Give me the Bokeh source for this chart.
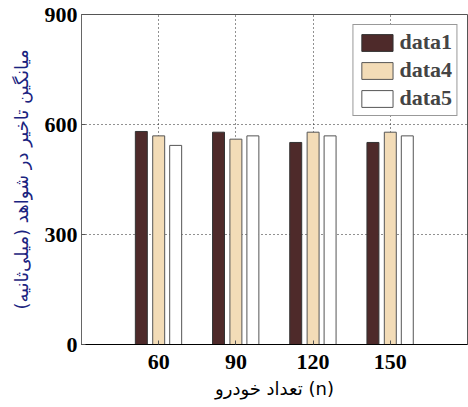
from bokeh.plotting import figure
from bokeh.models import ColumnDataSource, Range1d, FixedTicker, Legend, LegendItem
from bokeh.transform import dodge
from bokeh.embed import file_html
from bokeh.resources import INLINE

categories = ["60", "90", "120", "150"]
data1 = [581, 579, 551, 551]
data4 = [569, 560, 579, 579]
data5 = [543, 569, 569, 569]
y_ticks = [0, 300, 600, 900]

xs = list(range(1, len(categories) + 1))
src = ColumnDataSource(dict(x=xs, d1=data1, d4=data4, d5=data5))

p = figure(width=468, height=407, output_backend="svg", toolbar_location=None,
           x_range=Range1d(0, len(categories) + 1), y_range=Range1d(0, 900),
           min_border_left=81, min_border_right=1, min_border_top=14, min_border_bottom=63)
p.background_fill_color = "white"
p.border_fill_color = "white"
p.outline_line_color = "#555555"
p.outline_line_width = 1

bw = 0.155
r1 = p.vbar(x=dodge("x", -0.225, range=p.x_range), top="d1", width=bw, source=src,
            fill_color="#4e2a2a", line_color="#333333", line_width=1)
r4 = p.vbar(x=dodge("x", 0.0, range=p.x_range), top="d4", width=bw, source=src,
            fill_color="#f3dcb7", line_color="#555555", line_width=1)
r5 = p.vbar(x=dodge("x", 0.22, range=p.x_range), top="d5", width=bw, source=src,
            fill_color="white", line_color="#555555", line_width=1)

p.xaxis.ticker = FixedTicker(ticks=xs)
p.xaxis.major_label_overrides = {x: c for x, c in zip(xs, categories)}
p.yaxis.ticker = FixedTicker(ticks=y_ticks)

for ax in (p.xaxis[0], p.yaxis[0]):
    ax.major_label_text_font = "Liberation Serif"
    ax.major_label_text_font_style = "bold"
    ax.major_label_text_font_size = "22px"
    ax.major_label_text_color = "black"
    ax.major_tick_out = 0
    ax.major_tick_in = 4
    ax.minor_tick_line_color = None
    ax.major_tick_line_color = "#555555"

p.xaxis.axis_line_color = "black"
p.yaxis.axis_line_color = "#666666"
p.xaxis.major_label_standoff = 10
p.yaxis.major_label_standoff = 4

p.yaxis.axis_label = "میانگین تاخیر در شواهد (میلی‌ثانیه)"
p.yaxis.axis_label_text_font = "DejaVu Sans"
p.yaxis.axis_label_text_font_style = "normal"
p.yaxis.axis_label_text_font_size = "18px"
p.yaxis.axis_label_text_color = "#1a2380"
p.yaxis.axis_label_standoff = 10

p.xaxis.axis_label = "تعداد خودرو (n)"
p.xaxis.axis_label_text_font = "DejaVu Sans"
p.xaxis.axis_label_text_font_style = "normal"
p.xaxis.axis_label_text_font_size = "18px"
p.xaxis.axis_label_text_color = "black"
p.xaxis.axis_label_standoff = 6

p.xgrid.ticker = FixedTicker(ticks=xs)
p.ygrid.ticker = FixedTicker(ticks=y_ticks)
for g in (p.xgrid[0], p.ygrid[0]):
    g.grid_line_color = "#222222"
    g.grid_line_dash = "1 3"
    g.grid_line_width = 1

legend = Legend(items=[LegendItem(label="data1", renderers=[r1]),
                       LegendItem(label="data4", renderers=[r4]),
                       LegendItem(label="data5", renderers=[r5])],
                location="top_right")
legend.margin = 10
legend.padding = 4
legend.spacing = 2
legend.glyph_width = 39
legend.glyph_height = 21
legend.label_standoff = 3
legend.label_text_font = "Liberation Serif"
legend.label_text_font_style = "bold"
legend.label_text_font_size = "22px"
legend.label_height = 21
legend.border_line_color = "#333333"
legend.border_line_width = 1
legend.background_fill_alpha = 1.0
p.add_layout(legend)

open("out.html", "w").write(file_html(p, INLINE))
